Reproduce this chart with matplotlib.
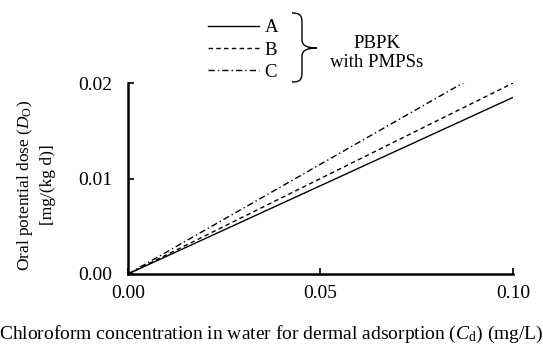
import matplotlib
matplotlib.use("Agg")
import matplotlib.pyplot as plt
from matplotlib.path import Path
from matplotlib.patches import PathPatch

plt.rcParams['font.family'] = ['Liberation Serif', 'DejaVu Serif']
plt.rcParams['mathtext.fontset'] = 'custom'
plt.rcParams['mathtext.it'] = 'Liberation Serif:italic'
plt.rcParams['mathtext.rm'] = 'Liberation Serif'

# concentration in water (mg/L) and oral potential dose (mg/(kg d))
conc = [0.0, 0.10]
dose_a = [0.0, 0.0185]
dose_b = [0.0, 0.0200]
dose_c = [0.0, 0.0230]
labels = ['A', 'B', 'C']
xticks = [0.0, 0.05, 0.10]
yticks = [0.0, 0.01, 0.02]

FS = 14

fig = plt.figure(figsize=(5.43, 3.44), dpi=100)
ax = fig.add_axes([0.2357, 0.2035, 0.709, 0.555])

ax.plot(conc, dose_a, color='black', lw=1.0, ls='-', label=labels[0])
ax.plot(conc, dose_b, color='black', lw=1.0, ls=(0, (3.2, 2.4)), label=labels[1])
ax.plot(conc, dose_c, color='black', lw=1.0, ls=(0, (4.5, 2.2, 1, 2.2)), label=labels[2])

ax.set_xlim(0, 0.10)
ax.set_ylim(0, 0.02)
ax.set_xticks(xticks)
ax.set_xticklabels(['%.2f' % v for v in xticks])
ax.set_yticks(yticks)
ax.set_yticklabels(['%.2f' % v for v in yticks])
ax.spines['top'].set_visible(False)
ax.spines['right'].set_visible(False)
for s in ['left', 'bottom']:
    ax.spines[s].set_linewidth(1.8)
ax.tick_params(direction='in', length=4, width=1.2, labelsize=FS, pad=8)
ax.tick_params(axis='y', pad=11)

ax.set_ylabel('Oral potential dose ($D_\\mathrm{O}$)\n[mg/(kg d)]', fontsize=12.5,
              linespacing=1.45)
ax.yaxis.set_label_coords(-(128 - 56) / 385, (274 - 185) / 191)
ax.set_xlabel('Chloroform concentration in water for dermal adsorption ($C_\\mathrm{d}$) (mg/L)',
              fontsize=FS)
ax.xaxis.set_label_coords((271 - 128) / 385, -(324 - 274) / 191)

leg = ax.legend(loc='center', bbox_to_anchor=(243 / 543, 1 - 50 / 344),
                bbox_transform=fig.transFigure, frameon=False, fontsize=13.5,
                handlelength=2.7, handletextpad=0.3, labelspacing=0.28)

# brace grouping the three curves
W, H = 543, 344
def fx(x):
    return x / W
def fy(y):
    return 1 - y / H
x0, x1 = 292, 317
top, mid, bot = 13, 48, 82
verts = [(fx(x0), fy(top)),
         (fx(x0 + 10), fy(top)), (fx(x0 + 10), fy(top + 4)), (fx(x0 + 10), fy(top + 12)),
         (fx(x0 + 10), fy(mid - 8)),
         (fx(x0 + 10), fy(mid - 2)), (fx(x0 + 16), fy(mid)), (fx(x1), fy(mid)),
         (fx(x0 + 16), fy(mid)), (fx(x0 + 10), fy(mid + 2)), (fx(x0 + 10), fy(mid + 8)),
         (fx(x0 + 10), fy(bot - 12)),
         (fx(x0 + 10), fy(bot - 4)), (fx(x0 + 10), fy(bot)), (fx(x0), fy(bot))]
codes = [Path.MOVETO,
         Path.CURVE4, Path.CURVE4, Path.CURVE4,
         Path.LINETO,
         Path.CURVE4, Path.CURVE4, Path.CURVE4,
         Path.CURVE4, Path.CURVE4, Path.CURVE4,
         Path.LINETO,
         Path.CURVE4, Path.CURVE4, Path.CURVE4]
fig.add_artist(PathPatch(Path(verts, codes), transform=fig.transFigure,
                         fill=False, lw=1.0, color='black'))
fig.text(fx(377), fy(53), 'PBPK\nwith PMPSs', ha='center', va='center',
         fontsize=13.5, linespacing=1.1)

fig.savefig('out.png', dpi=100)
